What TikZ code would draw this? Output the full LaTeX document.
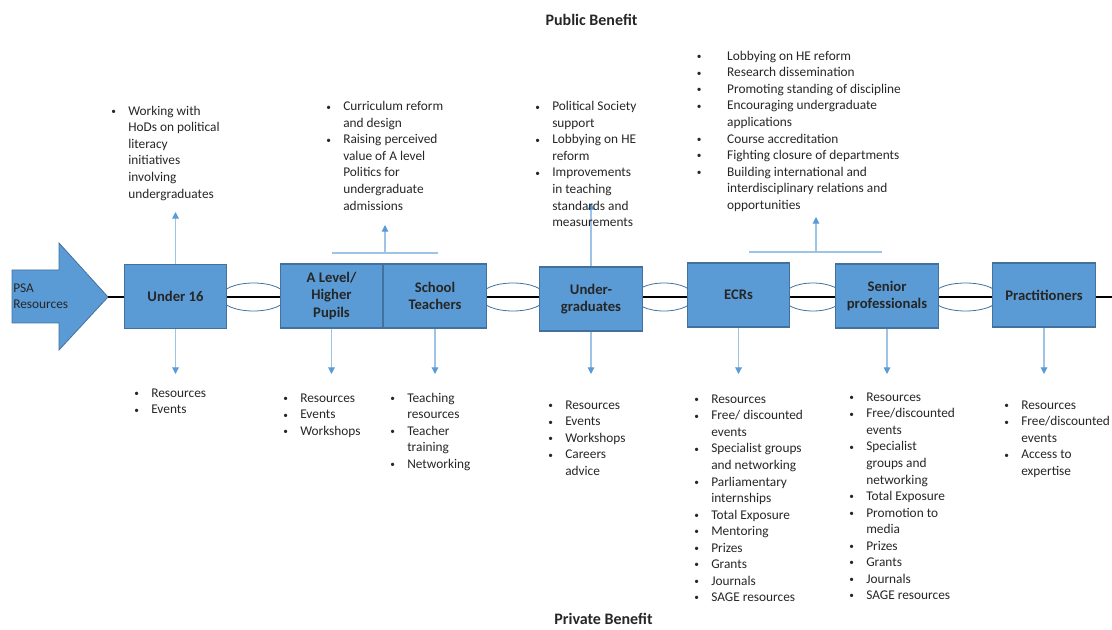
\documentclass[tikz,border=0pt]{standalone}
\usepackage{fontspec}
\setmainfont{Carlito}
\usetikzlibrary{arrows.meta}

\definecolor{boxblue}{HTML}{5B9BD5}
\definecolor{boxedge}{HTML}{41719C}
\definecolor{linkblue}{HTML}{9DC3E6}
\definecolor{tipblue}{HTML}{5B9BD5}
\definecolor{txt}{HTML}{262626}

\newcommand{\blist}[2]{\begin{tabular}{@{}p{#1}@{}l@{}}#2\end{tabular}}
\newcommand{\bt}{\raisebox{0.6pt}{\fontsize{7}{7}\selectfont\textbullet}}

\tikzset{
  stage/.style={draw=boxedge, fill=boxblue, line width=0.8pt, minimum width=77pt,
    minimum height=48pt, align=center, inner sep=1pt,
    font=\fontsize{11}{13}\selectfont\bfseries, text=txt},
  perk/.style={anchor=north west, inner sep=0pt, font=\fontsize{10}{12.4}\selectfont, text=txt},
  feed/.style={draw=linkblue, line width=0.8pt, -{Triangle[length=5pt,width=5pt,color=tipblue]}},
  bar/.style={draw=linkblue, line width=0.8pt},
  link/.style={draw=boxedge, line width=0.6pt},
  benefit/.style={font=\fontsize{12}{14}\selectfont\bfseries, text=txt}
}

\begin{document}
\begin{tikzpicture}[x=0.75pt,y=-0.75pt]
  \useasboundingbox (0,0) rectangle (1112,630);

  % PSA arrow and the spine
  \filldraw[fill=boxblue,draw=boxedge,line width=0.6pt]
    (12,270) -- (59,270) -- (59,243) -- (108,297) -- (59,350) -- (59,323) -- (12,323) -- cycle;
  \node[anchor=west, align=left, inner sep=0pt, font=\fontsize{10}{12.4}\selectfont, text=txt]
    (psa) at (13,296) {PSA\\Resources};
  \coordinate (spinestart) at (108,297);
  \coordinate (spineend) at (1112,297);
  \draw[black, line width=1.6pt] (spinestart) -- (spineend);

  \draw[link] (253.5,297) ellipse [x radius=33, y radius=14];
  \draw[link] (513,297) ellipse [x radius=33, y radius=14];
  \draw[link] (664,297) ellipse [x radius=30, y radius=14];
  \draw[link] (813,297) ellipse [x radius=30, y radius=14];
  \draw[link] (965.5,297) ellipse [x radius=34, y radius=14];

  \node[stage] (u16) at (175.5,296.5) {Under 16};
  \node[stage] (alevel) at (331.5,296) {A Level/\\Higher\\Pupils};
  \node[stage] (teach) at (435,296) {School\\Teachers};
  \node[stage] (ugrad) at (591,299) {Under-\\graduates};
  \node[stage] (ecr) at (738.5,295) {ECRs};
  \node[stage] (senior) at (887,296) {Senior\\professionals};
  \node[stage] (pract) at (1044,295) {Practitioners};

  % public side
  \coordinate (u16up) at (175.5,212);
  \coordinate (ugradup) at (591,203);
  \coordinate (bar1l) at (332,253);
  \coordinate (bar1r) at (438,253);
  \coordinate (bar1m) at (385,253);
  \coordinate (bar1up) at (385,225);
  \coordinate (bar2l) at (749,252);
  \coordinate (bar2r) at (882,252);
  \coordinate (bar2m) at (816,252);
  \coordinate (bar2up) at (816,217);
  \draw[feed] (u16.north) -- (u16up);
  \draw[feed] (ugrad.north) -- (ugradup);
  \draw[bar] (bar1l) -- (bar1r);
  \draw[feed] (bar1m) -- (bar1up);
  \draw[bar] (bar2l) -- (bar2r);
  \draw[feed] (bar2m) -- (bar2up);

  % private side
  \coordinate (downrow) at (0,374);
  \foreach \n in {u16,alevel,teach,ugrad,ecr,senior,pract}
    \draw[feed] (\n.south) -- (\n.south |- downrow);

  \node[benefit] (public) at (591.5,20) {Public Benefit};
  \node[benefit] (private) at (603.5,619) {Private Benefit};

  \node[perk] (u16pub) at (111,103.5) {\blist{12.75pt}{\bt & Working with\\ & HoDs on political\\
    & literacy\\ & initiatives\\ & involving\\ & undergraduates}};
  \node[perk] (alevelpub) at (326,99) {\blist{12.75pt}{\bt & Curriculum reform\\ & and design\\
    \bt & Raising perceived\\ & value of A level\\ & Politics for\\ & undergraduate\\ & admissions}};
  \node[perk] (ugradpub) at (535,99) {\blist{12.75pt}{\bt & Political Society\\ & support\\
    \bt & Lobbying on HE\\ & reform\\ \bt & Improvements\\ & in teaching\\ & standards and\\ & measurements}};
  \node[perk] (ecrpub) at (696.5,48.5) {\blist{22.8pt}{\bt & Lobbying on HE reform\\
    \bt & Research dissemination\\ \bt & Promoting standing of discipline\\
    \bt & Encouraging undergraduate\\ & applications\\ \bt & Course accreditation\\
    \bt & Fighting closure of departments\\ \bt & Building international and\\
    & interdisciplinary relations and\\ & opportunities}};

  \node[perk] (u16priv) at (134,385.5) {\blist{12.75pt}{\bt & Resources\\ \bt & Events}};
  \node[perk] (alevelpriv) at (283,390.5) {\blist{12.75pt}{\bt & Resources\\ \bt & Events\\ \bt & Workshops}};
  \node[perk] (teachpriv) at (390,390.5) {\blist{12.75pt}{\bt & Teaching\\ & resources\\
    \bt & Teacher\\ & training\\ \bt & Networking}};
  \node[perk] (ugradpriv) at (548,397.5) {\blist{12.75pt}{\bt & Resources\\ \bt & Events\\
    \bt & Workshops\\ \bt & Careers\\ & advice}};
  \node[perk] (ecrpriv) at (694,391.5) {\blist{12.75pt}{\bt & Resources\\ \bt & Free/ discounted\\
    & events\\ \bt & Specialist groups\\ & and networking\\ \bt & Parliamentary\\ & internships\\
    \bt & Total Exposure\\ \bt & Mentoring\\ \bt & Prizes\\ \bt & Grants\\ \bt & Journals\\
    \bt & SAGE resources}};
  \node[perk] (seniorpriv) at (849,389.5) {\blist{12.75pt}{\bt & Resources\\ \bt & Free/discounted\\
    & events\\ \bt & Specialist\\ & groups and\\ & networking\\ \bt & Total Exposure\\
    \bt & Promotion to\\ & media\\ \bt & Prizes\\ \bt & Grants\\ \bt & Journals\\
    \bt & SAGE resources}};
  \node[perk] (practpriv) at (1004,397.5) {\blist{12.75pt}{\bt & Resources\\ \bt & Free/discounted\\
    & events\\ \bt & Access to\\ & expertise}};
\end{tikzpicture}
\end{document}
